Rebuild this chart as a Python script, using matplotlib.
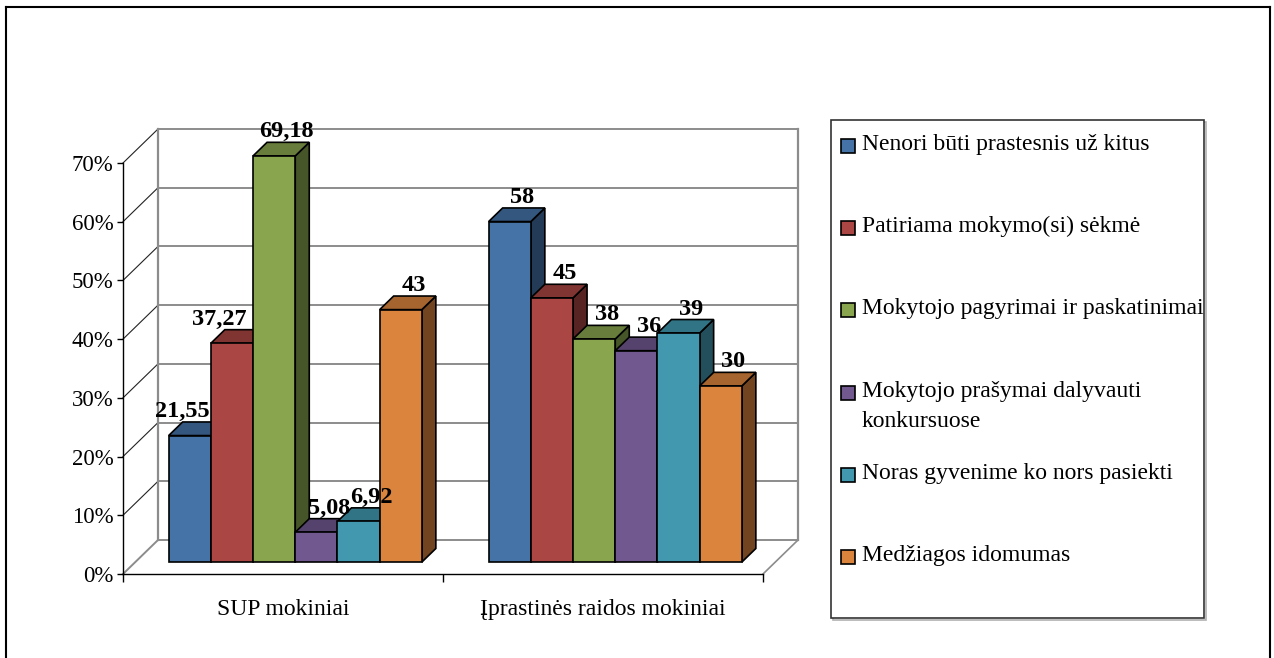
import matplotlib
matplotlib.use('Agg')
import matplotlib.pyplot as plt
from matplotlib.patches import Polygon, Rectangle
from matplotlib.lines import Line2D
import matplotlib.colors as mcolors

# ---------------- data ----------------
categories = ['SUP mokiniai', 'Įprastinės raidos mokiniai']
series_names = [
    'Nenori būti prastesnis už kitus',
    'Patiriama mokymo(si) sėkmė',
    'Mokytojo pagyrimai ir paskatinimai',
    'Mokytojo prašymai dalyvauti\nkonkursuose',
    'Noras gyvenime ko nors pasiekti',
    'Medžiagos idomumas',
]
sup_values = [21.55, 37.27, 69.18, 5.08, 6.92, 43]
typical_values = [58, 45, 38, 36, 39, 30]
y_ticks = [0, 10, 20, 30, 40, 50, 60, 70]
y_tick_labels = ['0%', '10%', '20%', '30%', '40%', '50%', '60%', '70%']

# ---------------- style ----------------
front_colors = ['#4572A7', '#AA4643', '#89A54E', '#71588F', '#4198AF', '#DB843D']
FONT = 'Liberation Serif'
W, H = 1274, 658

def shade(c, f):
    r, g, b = mcolors.to_rgb(c)
    return (r * f, g * f, b * f)

fig = plt.figure(figsize=(W / 100, H / 100), dpi=100)

# axes = front plane of the 3D box
ax = fig.add_axes([123 / W, 1 - 574 / H, 640 / W, 411 / H])
ax.set_xlim(-0.5, 1.5)
ax.set_ylim(0, 70)
ax.patch.set_visible(False)

px_x = 320.0           # pixels per category unit
px_y = 411.0 / 70.0    # pixels per percent
DX = 35 / px_x         # full depth offset (x, data units)
DY = 34 / px_y         # full depth offset (y, data units)
d0 = 0.35              # depth of bar fronts
dd = 0.40              # bar depth
bw = 42.2 / px_x       # bar width
n = len(series_names)
gw = bw * n

wall_col = '#8c8c8c'
# back wall gridlines and side-wall diagonals
x_back0, x_back1 = -0.5 + DX, 1.5 + DX
for v in y_ticks:
    ax.add_line(Line2D([x_back0, x_back1], [v + DY, v + DY], color=wall_col,
                       lw=1.4, zorder=1, clip_on=False))
    ax.add_line(Line2D([-0.5, x_back0], [v, v + DY],
                       color=(wall_col if v == 0 else '#222222'),
                       lw=(1.4 if v == 0 else 0.8), zorder=1, clip_on=False))
ax.add_line(Line2D([x_back0, x_back0], [DY, 70 + DY], color=wall_col, lw=1.6,
                   zorder=1, clip_on=False))
ax.add_line(Line2D([x_back1, x_back1], [DY, 70 + DY], color=wall_col, lw=1.6,
                   zorder=1, clip_on=False))
ax.add_line(Line2D([1.5, x_back1], [0, DY], color=wall_col, lw=1.2,
                   zorder=1, clip_on=False))

# bars
ddx, ddy = dd * DX, dd * DY
sx0, sy0 = d0 * DX, d0 * DY
label_dx_px = [[-20, -25, 0, 0, 0, 0], [0, 0, 0, 0, 0, 0]]
groups = [sup_values, typical_values]
for gi, vals in enumerate(groups):
    for j, v in enumerate(vals):
        L = gi - gw / 2 + j * bw + sx0
        base = sy0
        top = sy0 + v
        z = 10 + j * 3
        fc = front_colors[j]
        side = Polygon([(L + bw, base), (L + bw + ddx, base + ddy),
                        (L + bw + ddx, top + ddy), (L + bw, top)],
                       closed=True, fc=shade(fc, 0.52), ec='black', lw=1.2,
                       zorder=z, clip_on=False, joinstyle='miter')
        topf = Polygon([(L, top), (L + bw, top), (L + bw + ddx, top + ddy),
                        (L + ddx, top + ddy)],
                       closed=True, fc=shade(fc, 0.76), ec='black', lw=1.2,
                       zorder=z + 1, clip_on=False, joinstyle='miter')
        front = Rectangle((L, base), bw, v, fc=fc, ec='black', lw=1.2,
                          zorder=z + 2, clip_on=False, joinstyle='miter')
        for p in (side, topf, front):
            ax.add_patch(p)
        lab = ('%g' % v).replace('.', ',')
        lx = L + bw / 2 + ddx * 0.9 + label_dx_px[gi][j] / px_x
        ly = top + ddy + 5 / px_y
        ax.text(lx, ly, lab, ha='center', va='baseline', fontsize=17.5,
                fontweight='bold', family=FONT, zorder=100, clip_on=False)

# axes styling
for s in ('top', 'right'):
    ax.spines[s].set_visible(False)
for s in ('left', 'bottom'):
    ax.spines[s].set_color('black')
    ax.spines[s].set_linewidth(1.0)
    ax.spines[s].set_zorder(2)
ax.set_yticks(y_ticks)
ax.set_yticklabels(y_tick_labels, family=FONT, fontsize=16.5)
ax.tick_params(axis='y', direction='out', length=4, width=1, pad=3)
ax.set_xticks(range(len(categories)))
ax.set_xticklabels(categories, family=FONT, fontsize=17)
ax.set_xticks([-0.5, 0.5, 1.5], minor=True)
ax.tick_params(axis='x', which='major', length=0, pad=18)
ax.tick_params(axis='x', which='minor', direction='out', length=6, width=1)

# legend (manual, to mirror the original box layout)
def fx(x):
    return x / W

def fy(y):
    return 1 - y / H

lx0, ly0, lx1, ly1 = 831, 120, 1204, 618
fig.add_artist(Rectangle((fx(lx0 + 2), fy(ly1 + 2)), fx(lx1 - lx0), (ly1 - ly0) / H,
                         transform=fig.transFigure, fc='none', ec='#b0b0b0', lw=1.2))
fig.add_artist(Rectangle((fx(lx0), fy(ly1)), fx(lx1 - lx0), (ly1 - ly0) / H,
                         transform=fig.transFigure, fc='white', ec='#333333', lw=1.2))
for i, name in enumerate(series_names):
    cy = 146 + i * 82.2
    fig.add_artist(Rectangle((fx(841), fy(cy + 7)), fx(14), 14 / H,
                             transform=fig.transFigure, fc=front_colors[i],
                             ec='black', lw=1.2))
    fig.text(fx(862), fy(cy - 12), name, ha='left', va='top', fontsize=17,
             family=FONT, linespacing=1.6)

# outer chart border
fig.add_artist(Line2D([fx(6), fx(6)], [fy(7), 0], transform=fig.transFigure,
                      color='black', lw=1.5))
fig.add_artist(Line2D([fx(6), fx(1270)], [fy(7), fy(7)], transform=fig.transFigure,
                      color='black', lw=1.5))
fig.add_artist(Line2D([fx(1270), fx(1270)], [fy(7), 0], transform=fig.transFigure,
                      color='black', lw=1.5))

fig.savefig('out.png', dpi=100)
